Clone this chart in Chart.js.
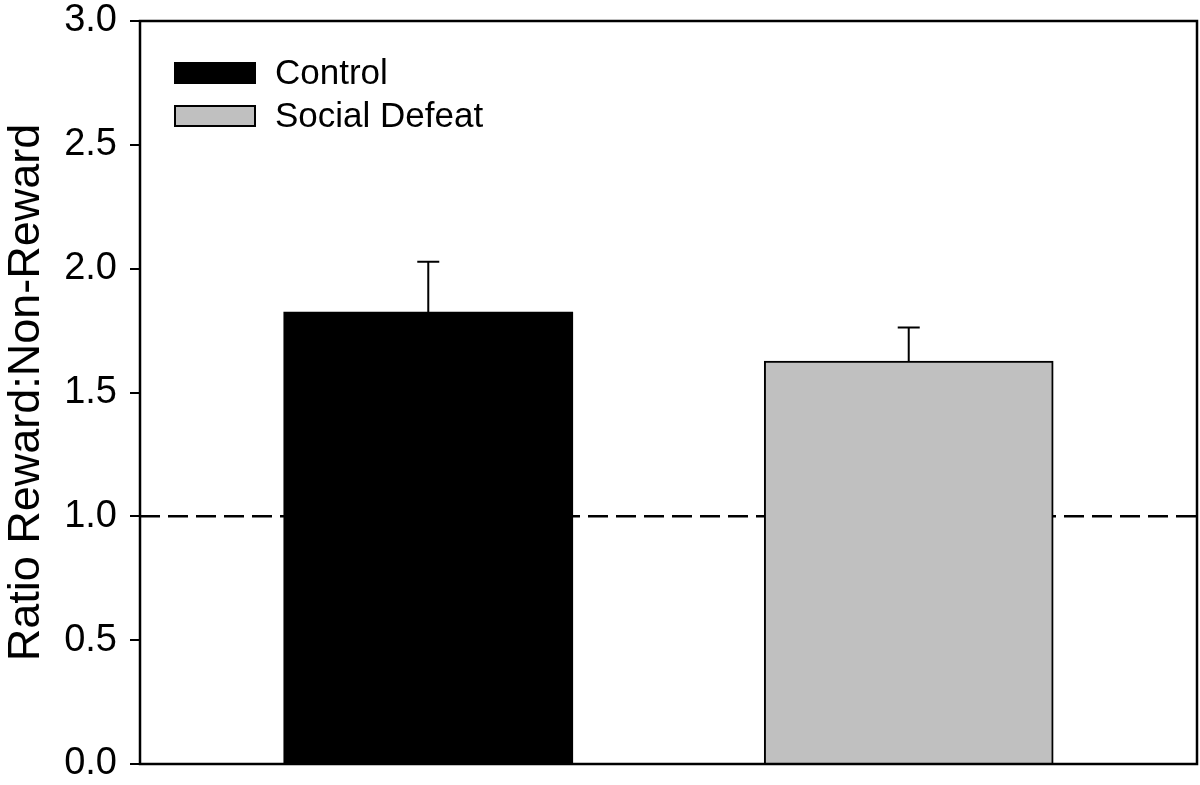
<!DOCTYPE html>
<html>
<head>
<meta charset="utf-8">
<script src="https://cdn.jsdelivr.net/npm/chart.js@4"></script>
<style>
  html, body { margin: 0; padding: 0; background: #fff; }
  #wrap { width: 1200px; height: 785px; }
</style>
</head>
<body>
<div id="wrap"><canvas id="chart" width="1200" height="785"></canvas></div>
<script>
const groups = ['Control', 'Social Defeat'];
const positions = [1, 2];
const means = [1.825, 1.627];
const sems = [0.203, 0.135];
const fills = ['#000000', '#c0c0c0'];
const yTicks = [0, 0.5, 1.0, 1.5, 2.0, 2.5, 3.0];
const refLine = 1.0;

const FONT = '"Liberation Sans", Arial, Helvetica, sans-serif';

const boxPlugin = {
    id: 'box',
    beforeDatasetsDraw(chart) {
        const { ctx, chartArea: a, scales } = chart;
        const y = scales.y.getPixelForValue(refLine);
        ctx.save();
        ctx.strokeStyle = '#000';
        ctx.lineWidth = 2.5;
        ctx.setLineDash([20, 8]);
        ctx.beginPath();
        ctx.moveTo(a.left, y);
        ctx.lineTo(a.right, y);
        ctx.stroke();
        ctx.restore();
    },
    afterDatasetsDraw(chart) {
        const { ctx, chartArea: a, scales } = chart;
        ctx.save();
        ctx.strokeStyle = '#000';
        ctx.lineWidth = 2;
        // upper error bars only
        chart.data.datasets.forEach((ds, i) => {
            const meta = chart.getDatasetMeta(i);
            meta.data.forEach((bar, j) => {
                const x = bar.x;
                const yTop = scales.y.getPixelForValue(ds.data[j].y + ds.sem[j]);
                ctx.beginPath();
                ctx.moveTo(x, bar.y);
                ctx.lineTo(x, yTop);
                ctx.moveTo(x - 11, yTop);
                ctx.lineTo(x + 11, yTop);
                ctx.stroke();
            });
        });
        // frame
        ctx.lineWidth = 2.5;
        ctx.strokeRect(a.left, a.top, a.right - a.left, a.bottom - a.top);
        // legend inside plot
        ctx.font = '35px ' + FONT;
        ctx.textBaseline = 'middle';
        chart.data.datasets.forEach((ds, i) => {
            const top = 63 + i * 43;
            ctx.fillStyle = ds.backgroundColor;
            ctx.fillRect(175, top, 80, 20);
            ctx.lineWidth = 2;
            ctx.strokeRect(175, top, 80, 20);
            ctx.fillStyle = '#000';
            ctx.fillText(ds.label, 275, top + 11);
        });
        ctx.restore();
    }
};

const datasets = groups.map((g, i) => ({
    label: g,
    data: [{ x: positions[i], y: means[i] }],
    sem: [sems[i]],
    backgroundColor: fills[i],
    borderColor: '#000',
    borderWidth: i === 0 ? 0 : 2,
    borderSkipped: 'bottom',
    barThickness: 289,
    grouped: false,
}));

new Chart(document.getElementById('chart'), {
    type: 'bar',
    data: { datasets },
    options: {
        responsive: false,
        animation: false,
        layout: { padding: { top: 21, right: 3, bottom: 21, left: 0 } },
        plugins: {
            legend: { display: false },
            tooltip: { enabled: false },
        },
        scales: {
            x: {
                type: 'linear',
                min: 0.4,
                max: 2.6,
                offset: false,
                display: false,
            },
            y: {
                min: 0,
                max: 3,
                afterFit(scale) {
                    scale.width = 140;
                    scale.paddingTop = 0;
                    scale.paddingBottom = 0;
                },
                afterBuildTicks(scale) { scale.ticks = yTicks.map((v) => ({ value: v })); },
                border: { display: false },
                grid: {
                    display: true,
                    drawOnChartArea: false,
                    drawTicks: true,
                    tickLength: 10,
                    color: '#000',
                    lineWidth: 2,
                },
                ticks: {
                    padding: 13,
                    color: '#000',
                    font: { family: FONT, size: 38, lineHeight: 1 },
                    callback: (v) => Number(v).toFixed(1),
                },
                title: {
                    display: true,
                    text: 'Ratio Reward:Non-Reward',
                    color: '#000',
                    font: { family: FONT, size: 45, lineHeight: 1.2 },
                    padding: { top: 0, bottom: 0 },
                },
            },
        },
    },
    plugins: [boxPlugin],
});
</script>
</body>
</html>
